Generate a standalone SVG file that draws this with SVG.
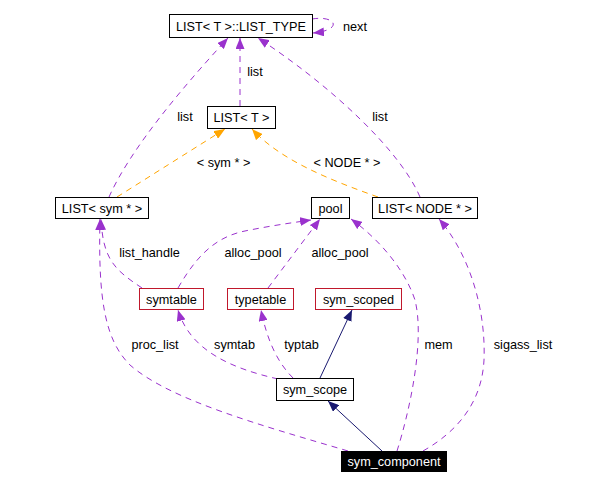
<svg xmlns="http://www.w3.org/2000/svg" width="604" height="489" viewBox="0 0 604 489">
<defs>
<style>
text{font-family:"Liberation Sans",Arial,sans-serif;font-size:12.7px;fill:#000;text-anchor:middle}
.box{fill:#fff;stroke:#000;stroke-width:1}
.rbox{fill:#fff;stroke:#c0182c;stroke-width:1}
.p{fill:none;stroke:#9a32cd;stroke-width:1;stroke-dasharray:6,5}
.o{fill:none;stroke:#ffa500;stroke-width:1;stroke-dasharray:6,5}
.n{fill:none;stroke:#191970;stroke-width:1}
</style>
<marker id="ap" markerWidth="11" markerHeight="9" refX="11" refY="4.5" orient="auto" markerUnits="userSpaceOnUse"><path d="M0,0 L11,4.5 L0,9 z" fill="#9a32cd"/></marker>
<marker id="ao" markerWidth="11" markerHeight="9" refX="11" refY="4.5" orient="auto" markerUnits="userSpaceOnUse"><path d="M0,0 L11,4.5 L0,9 z" fill="#ffa500"/></marker>
<marker id="an" markerWidth="11" markerHeight="9" refX="11" refY="4.5" orient="auto" markerUnits="userSpaceOnUse"><path d="M0,0 L11,4.5 L0,9 z" fill="#191970"/></marker>
</defs>
<rect width="604" height="489" fill="#fff"/>
<g id="connectors">
<path class="p" d="M312,19 C336,15 344,30 313,33" marker-end="url(#ap)"/>
<path class="p" d="M240,106 L240,38" marker-end="url(#ap)"/>
<path class="p" d="M109,197 C130,150 180,90 228,38" marker-end="url(#ap)"/>
<path class="p" d="M420,197 C400,150 330,85 258,38" marker-end="url(#ap)"/>
<path class="o" d="M117,197 L225,129" marker-end="url(#ao)"/>
<path class="o" d="M378,197 C330,180 280,160 252,129" marker-end="url(#ao)"/>
<path class="p" d="M142,288 C115,270 103,260 101,219" marker-end="url(#ap)"/>
<path class="p" d="M348,451 C260,425 170,400 130,365 C105,340 98,300 100,219" marker-end="url(#ap)"/>
<path class="p" d="M178,288 C200,250 220,235 250,230 C270,226 290,223 311,220" marker-end="url(#ap)"/>
<path class="p" d="M268,288 L320,219" marker-end="url(#ap)"/>
<path class="p" d="M397,451 C410,410 425,340 415,300 C405,270 380,240 351,219" marker-end="url(#ap)"/>
<path class="p" d="M423,451 C460,430 482,400 484,360 C486,310 470,255 439,219" marker-end="url(#ap)"/>
<path class="p" d="M278,379 C230,368 190,350 178,310" marker-end="url(#ap)"/>
<path class="p" d="M293,378 C280,365 268,345 261,310" marker-end="url(#ap)"/>
<path class="n" d="M320,378 L352,310" marker-end="url(#an)"/>
<path class="n" d="M382,451 L328,401" marker-end="url(#an)"/>
</g>
<g id="labels">
<text x="355" y="31">next</text>
<text x="185" y="121">list</text>
<text x="255" y="76">list</text>
<text x="380" y="121">list</text>
<text x="223.5" y="167">&lt; sym * &gt;</text>
<text x="347" y="167">&lt; NODE * &gt;</text>
<text x="149.5" y="257">list_handle</text>
<text x="253" y="257">alloc_pool</text>
<text x="340" y="257">alloc_pool</text>
<text x="155" y="349">proc_list</text>
<text x="234.5" y="349">symtab</text>
<text x="301.5" y="349">typtab</text>
<text x="438.5" y="349">mem</text>
<text x="523" y="349">sigass_list</text>
</g>
<g id="node-list-type"><rect class="box" x="169.5" y="14.5" width="143" height="23"/><text x="241" y="30.5">LIST&lt; T &gt;::LIST_TYPE</text></g>
<g id="node-list-t"><rect class="box" x="207.5" y="106.5" width="68" height="22"/><text x="241.5" y="122">LIST&lt; T &gt;</text></g>
<g id="node-list-sym"><rect class="box" x="55.5" y="197.5" width="93" height="21"/><text x="102" y="212.5">LIST&lt; sym * &gt;</text></g>
<g id="node-pool"><rect class="box" x="311.5" y="197.5" width="38" height="21"/><text x="330.5" y="212.5">pool</text></g>
<g id="node-list-node"><rect class="box" x="372.5" y="197.5" width="105" height="21"/><text x="425" y="212.5">LIST&lt; NODE * &gt;</text></g>
<g id="node-symtable"><rect class="rbox" x="139.5" y="288.5" width="64" height="21"/><text x="171.5" y="303.5">symtable</text></g>
<g id="node-typetable"><rect class="rbox" x="227.5" y="288.5" width="66" height="21"/><text x="260.5" y="303.5">typetable</text></g>
<g id="node-sym-scoped"><rect class="rbox" x="315.5" y="288.5" width="86" height="21"/><text x="358.5" y="303.5">sym_scoped</text></g>
<g id="node-sym-scope"><rect class="box" x="276.5" y="378.5" width="77" height="22"/><text x="315" y="394">sym_scope</text></g>
<g id="node-sym-component"><rect x="341" y="451" width="106" height="21" fill="#000"/><text x="394" y="466" style="fill:#fff">sym_component</text></g>
</svg>
